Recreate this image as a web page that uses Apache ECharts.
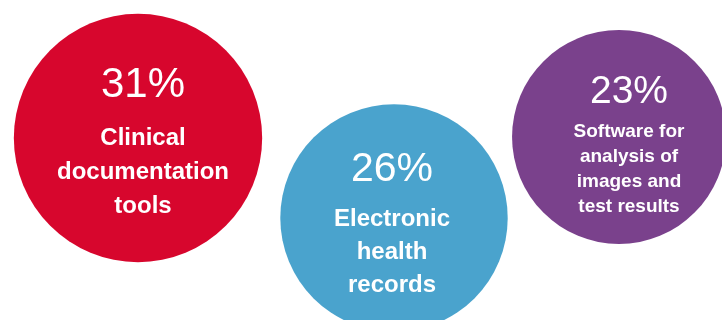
<!DOCTYPE html>
<html>
<head>
<meta charset="utf-8">
<script src="https://cdn.jsdelivr.net/npm/echarts@6/dist/echarts.min.js"></script>
<style>html,body{margin:0;padding:0;background:#fff}#c{width:722px;height:320px}</style>
</head>
<body>
<div id="c"></div>
<script>
// ---- data ----
var categories = ['Clinical\ndocumentation\ntools', 'Electronic\nhealth\nrecords', 'Software for\nanalysis of\nimages and\ntest results'];
var values = [31, 26, 23];

// ---- layout / style (not data) ----
var centers = [[138, 138], [394, 218], [619, 137]];
var colors = ['#d7062d', '#4aa3cd', '#7a418c'];
var sizeK = 44.6; // diameter = sizeK * sqrt(value)
var labelStyles = [
  {pSize: 42, pLH: 73, tSize: 24, tLH: 34, off: [5, -2]},
  {pSize: 41, pLH: 65, tSize: 24, tLH: 33, off: [-2, 1.5]},
  {pSize: 39, pLH: 55, tSize: 19, tLH: 25, off: [10, 5]}
];

var seriesData = values.map(function (v, i) {
  var ls = labelStyles[i];
  var lines = categories[i].split('\n').map(function (s) { return '{t|' + s + '}'; }).join('\n');
  return {
    value: [centers[i][0], centers[i][1], v],
    name: categories[i],
    itemStyle: {color: colors[i], opacity: 1},
    label: {
      offset: ls.off,
      formatter: '{p|' + v + '%}\n' + lines,
      rich: {
        p: {fontSize: ls.pSize, lineHeight: ls.pLH, color: '#fff', fontFamily: 'Liberation Sans, Arial, sans-serif', fontWeight: 'normal', align: 'center'},
        t: {fontSize: ls.tSize, lineHeight: ls.tLH, color: '#fff', fontFamily: 'Liberation Sans, Arial, sans-serif', fontWeight: 'bold', align: 'center'}
      }
    }
  };
});

var chart = echarts.init(document.getElementById('c'), null, {renderer: 'canvas'});
chart.setOption({
  animation: false,
  backgroundColor: '#fff',
  grid: {left: 0, right: 0, top: 0, bottom: 0},
  xAxis: {type: 'value', min: 0, max: 722, show: false},
  yAxis: {type: 'value', min: 0, max: 320, inverse: true, show: false},
  series: [{
    type: 'scatter',
    clip: false,
    symbol: 'circle',
    symbolSize: function (val) { return sizeK * Math.sqrt(val[2]); },
    itemStyle: {opacity: 1},
    data: seriesData,
    label: {show: true, position: 'inside', align: 'center', verticalAlign: 'middle', opacity: 1},
    emphasis: {disabled: true}
  }]
});
</script>
</body>
</html>
